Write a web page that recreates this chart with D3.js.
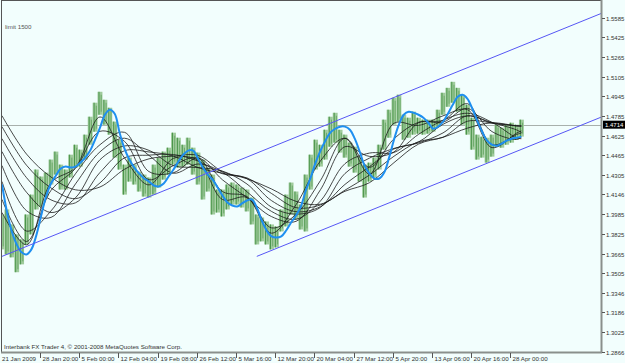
<!DOCTYPE html>
<html>
<head>
<meta charset="utf-8">
<script src="https://cdnjs.cloudflare.com/ajax/libs/d3/7.8.5/d3.min.js"></script>
<style>
  body { margin: 0; background: #f2fefd; }
  svg text { font-family: "Liberation Sans", Arial, sans-serif; }
</style>
</head>
<body>
<div id="chart"></div>
<script>
// GBPUSD H4, 21 Jan - 28 Apr 2009, sampled every 4 bars
var sampleStep = 4;

var priceHigh = [
  1.3983,1.4024,1.3902,1.3821,1.3780,1.3983,1.4145,1.4349,1.4292,1.4324,
  1.4430,1.4495,1.4389,1.4349,1.4470,1.4551,1.4511,1.4633,1.4779,1.4893,
  1.4982,1.4917,1.4852,1.4739,1.4592,1.4389,1.4446,1.4389,1.4332,1.4308,
  1.4284,1.4389,1.4446,1.4495,1.4527,1.4649,1.4608,1.4551,1.4608,1.4527,
  1.4487,1.4430,1.4365,1.4308,1.4186,1.4186,1.4227,1.4243,1.4227,1.4202,
  1.4186,1.4121,1.3983,1.3959,1.3926,1.3902,1.3886,1.4024,1.4145,1.4243,
  1.4170,1.4064,1.4308,1.4470,1.4592,1.4551,1.4673,1.4779,1.4811,1.4673,
  1.4633,1.4568,1.4535,1.4454,1.4389,1.4405,1.4446,1.4551,1.4755,1.4836,
  1.4933,1.4958,1.4795,1.4771,1.4820,1.4771,1.4755,1.4755,1.4755,1.4836,
  1.4974,1.5014,1.5063,1.5014,1.4958,1.4876,1.4771,1.4633,1.4616,1.4608,
  1.4633,1.4714,1.4690,1.4714,1.4730,1.4714,1.4755
];
var priceLow = [
  1.3699,1.3658,1.3634,1.3513,1.3577,1.3739,1.3821,1.4024,1.4048,1.4129,
  1.4227,1.4308,1.4186,1.4186,1.4284,1.4365,1.4373,1.4430,1.4551,1.4657,
  1.4795,1.4714,1.4633,1.4446,1.4349,1.4145,1.4251,1.4227,1.4170,1.4129,
  1.4121,1.4145,1.4202,1.4267,1.4308,1.4389,1.4365,1.4373,1.4389,1.4308,
  1.4227,1.4105,1.4170,1.3983,1.3999,1.3967,1.4024,1.4064,1.4064,1.4040,
  1.4008,1.3902,1.3739,1.3764,1.3739,1.3699,1.3715,1.3845,1.3886,1.3983,
  1.3943,1.3861,1.3845,1.4186,1.4349,1.4373,1.4430,1.4535,1.4568,1.4487,
  1.4446,1.4373,1.4324,1.4251,1.4121,1.4251,1.4284,1.4349,1.4511,1.4608,
  1.4714,1.4739,1.4592,1.4608,1.4633,1.4641,1.4633,1.4641,1.4657,1.4698,
  1.4795,1.4860,1.4893,1.4820,1.4714,1.4633,1.4511,1.4430,1.4446,1.4405,
  1.4454,1.4535,1.4527,1.4551,1.4568,1.4592,1.4617
];

// fast blue average
var maBlue = [
  1.4227,1.4008,1.3845,1.3739,1.3675,1.3658,1.3699,1.3813,1.3975,1.4129,
  1.4235,1.4300,1.4357,1.4373,1.4365,1.4373,1.4405,1.4446,1.4503,1.4592,
  1.4690,1.4795,1.4836,1.4803,1.4649,1.4519,1.4430,1.4365,1.4316,1.4276,
  1.4251,1.4219,1.4211,1.4235,1.4292,1.4349,1.4414,1.4470,1.4503,1.4503,
  1.4438,1.4365,1.4308,1.4267,1.4202,1.4137,1.4081,1.4056,1.4048,1.4073,
  1.4097,1.4105,1.4040,1.3935,1.3853,1.3805,1.3796,1.3805,1.3853,1.3918,
  1.3975,1.4048,1.4178,1.4284,1.4405,1.4503,1.4584,1.4649,1.4681,1.4698,
  1.4698,1.4673,1.4600,1.4495,1.4381,1.4316,1.4276,1.4276,1.4324,1.4446,
  1.4592,1.4714,1.4795,1.4820,1.4811,1.4795,1.4771,1.4730,1.4681,1.4698,
  1.4738,1.4803,1.4876,1.4941,1.4958,1.4925,1.4844,1.4746,1.4657,1.4584,
  1.4551,1.4543,1.4560,1.4584,1.4600,1.4608,1.4617
];

// black ribbon, fastest to slowest, read at these sample indexes
var ribbonIdx = [0,5,10,15,20,25,30,35,40,45,50,55,60,65,70,75,80,85,90,95,100,105,106];
var ribbon1 = [1.3999,1.3736,1.4241,1.4367,1.4777,1.4444,1.4224,1.4440,1.4424,1.4105,1.4121,1.3831,1.4062,1.4420,1.4603,1.4312,1.4726,1.4708,1.4786,1.4836,1.4527,1.4645,1.4663];
var ribbon2 = [1.4105,1.3763,1.4179,1.4358,1.4660,1.4578,1.4266,1.4382,1.4444,1.4170,1.4129,1.3874,1.3984,1.4260,1.4604,1.4367,1.4599,1.4733,1.4750,1.4885,1.4551,1.4634,1.4646];
var ribbon3 = [1.4251,1.3848,1.4012,1.4315,1.4551,1.4652,1.4332,1.4323,1.4443,1.4265,1.4120,1.3966,1.3927,1.4185,1.4535,1.4456,1.4492,1.4730,1.4734,1.4847,1.4658,1.4594,1.4613];
var ribbon4 = [1.4381,1.4014,1.3959,1.4232,1.4493,1.4604,1.4464,1.4319,1.4394,1.4327,1.4168,1.4008,1.3944,1.4093,1.4397,1.4483,1.4488,1.4635,1.4749,1.4807,1.4733,1.4607,1.4600];
var ribbon5 = [1.4495,1.4164,1.3999,1.4119,1.4429,1.4541,1.4505,1.4380,1.4365,1.4336,1.4231,1.4043,1.3986,1.4041,1.4317,1.4442,1.4521,1.4573,1.4717,1.4785,1.4731,1.4672,1.4651];
var ribbon6 = [1.4600,1.4283,1.4102,1.4078,1.4325,1.4502,1.4492,1.4458,1.4365,1.4318,1.4274,1.4096,1.4006,1.4047,1.4228,1.4372,1.4517,1.4565,1.4647,1.4787,1.4727,1.4706,1.4701];
var ribbon7 = [1.4698,1.4384,1.4199,1.4112,1.4240,1.4444,1.4466,1.4471,1.4418,1.4315,1.4281,1.4154,1.4039,1.4061,1.4181,1.4304,1.4457,1.4575,1.4612,1.4742,1.4729,1.4704,1.4704];
var ribbon8 = [1.4787,1.4475,1.4288,1.4184,1.4207,1.4351,1.4436,1.4458,1.4464,1.4332,1.4274,1.4191,1.4090,1.4067,1.4172,1.4242,1.4405,1.4556,1.4611,1.4686,1.4729,1.4705,1.4705];
var ribbons = [ribbon1, ribbon2, ribbon3, ribbon4, ribbon5, ribbon6, ribbon7, ribbon8];

// channel lines (bar index, price)
var upperBars = [0, 490];
var upperPrices = [1.3642, 1.5623];
var lowerBars = [208, 490];
var lowerPrices = [1.3642, 1.4779];

var lastPrice = 1.4714;

var yTicks = [1.5585,1.5425,1.5265,1.5105,1.4945,1.4785,1.4625,1.4465,1.4305,1.4146,1.3985,1.3825,1.3665,1.3505,1.3346,1.3186,1.3025,1.2866];
var xTickLabels = ["21 Jan 2009","28 Jan 20:00","5 Feb 00:00","12 Feb 04:00","19 Feb 08:00","26 Feb 12:00","5 Mar 16:00","12 Mar 20:00","20 Mar 04:00","27 Mar 12:00","5 Apr 20:00","13 Apr 06:00","20 Apr 16:00","28 Apr 00:00"];
var xTickBars = [0,31,63,95,127,159,191,223,255,287,319,351,383,415];

var svgWidth = 625;
var svgHeight = 363;
var plot = { left: 2, right: 601, top: 1, bottom: 352 };

var svg = d3.select("#chart")
  .append("svg")
  .attr("width", svgWidth)
  .attr("height", svgHeight);

svg.append("rect")
  .attr("width", svgWidth)
  .attr("height", svgHeight)
  .attr("fill", "#f2fefd");

var xScale = d3.scaleLinear().domain([0, 489]).range([plot.left, plot.right]);
var yScale = d3.scaleLinear().domain([1.2866, 1.5585]).range([351.7, 17.7]);

svg.append("clipPath").attr("id", "clip")
  .append("rect")
  .attr("x", plot.left).attr("y", plot.top)
  .attr("width", plot.right - plot.left).attr("height", plot.bottom - plot.top);

var g = svg.append("g").attr("clip-path", "url(#clip)");

// last price line
g.append("line")
  .attr("x1", plot.left).attr("x2", plot.right)
  .attr("y1", Math.round(yScale(lastPrice)) + 0.5)
  .attr("y2", Math.round(yScale(lastPrice)) + 0.5)
  .attr("stroke", "#a8b0ac")
  .attr("stroke-width", 1);

// price bars
var step = xScale(sampleStep) - xScale(0);
var bars = g.append("g");
priceHigh.forEach(function(h, i) {
  var x = xScale(i * sampleStep);
  bars.append("rect")
    .attr("x", x - step / 2)
    .attr("y", yScale(h))
    .attr("width", step)
    .attr("height", yScale(priceLow[i]) - yScale(h))
    .attr("fill", "#9fcb9c");
  bars.append("line")
    .attr("x1", x - 1).attr("x2", x - 1)
    .attr("y1", yScale(h)).attr("y2", yScale(priceLow[i]))
    .attr("stroke", "#4a954a")
    .attr("stroke-width", 1);
  bars.append("line")
    .attr("x1", x + 1.2).attr("x2", x + 1.2)
    .attr("y1", yScale(h) + 3).attr("y2", yScale(priceLow[i]) - 3)
    .attr("stroke", "#5ea25c")
    .attr("stroke-width", 0.8);
});

// ribbon
var ribbonLine = d3.line()
  .x(function(d, k) { return xScale(ribbonIdx[k] * sampleStep); })
  .y(function(d) { return yScale(d); })
  .curve(d3.curveCatmullRom);

ribbons.forEach(function(r) {
  g.append("path")
    .attr("d", ribbonLine(r))
    .attr("fill", "none")
    .attr("stroke", "#1a1a1a")
    .attr("stroke-width", 0.8);
});

// blue average
var blueLine = d3.line()
  .x(function(d, i) { return xScale(i * sampleStep); })
  .y(function(d) { return yScale(d); })
  .curve(d3.curveCatmullRom);

g.append("path")
  .attr("d", blueLine(maBlue))
  .attr("fill", "none")
  .attr("stroke", "#1e8ff0")
  .attr("stroke-width", 2);

// channel
[[upperBars, upperPrices], [lowerBars, lowerPrices]].forEach(function(c) {
  g.append("line")
    .attr("x1", xScale(c[0][0])).attr("y1", yScale(c[1][0]))
    .attr("x2", xScale(c[0][1])).attr("y2", yScale(c[1][1]))
    .attr("stroke", "#5656f5")
    .attr("stroke-width", 1);
});

// frame
svg.append("line")
  .attr("x1", 1.5).attr("x2", 1.5).attr("y1", 0).attr("y2", plot.bottom)
  .attr("stroke", "#555").attr("stroke-width", 1);
svg.append("line")
  .attr("x1", 1).attr("x2", plot.right).attr("y1", 0.5).attr("y2", 0.5)
  .attr("stroke", "#555").attr("stroke-width", 1);
svg.append("line")
  .attr("x1", plot.right + 0.5).attr("x2", plot.right + 0.5).attr("y1", 0).attr("y2", plot.bottom + 1)
  .attr("stroke", "#8a8f8c").attr("stroke-width", 2);
svg.append("line")
  .attr("x1", 1).attr("x2", plot.right + 1).attr("y1", plot.bottom + 0.5).attr("y2", plot.bottom + 0.5)
  .attr("stroke", "#8a8f8c").attr("stroke-width", 2);

// y axis
var yAxis = svg.append("g");
yTicks.forEach(function(v) {
  var y = Math.round(yScale(v)) + 0.5;
  yAxis.append("line")
    .attr("x1", plot.right + 1).attr("x2", plot.right + 4)
    .attr("y1", y).attr("y2", y)
    .attr("stroke", "#555");
  yAxis.append("text")
    .attr("x", 606).attr("y", y + 2)
    .attr("font-size", "6px")
    .attr("fill", "#333")
    .text(v.toFixed(4));
});

var ly = yScale(lastPrice);
svg.append("rect")
  .attr("x", 603).attr("y", ly - 4)
  .attr("width", 22).attr("height", 8)
  .attr("fill", "#000");
svg.append("text")
  .attr("x", 605).attr("y", ly + 2.2)
  .attr("font-size", "6px")
  .attr("fill", "#fff")
  .text(lastPrice.toFixed(4));

// x axis
var xAxis = svg.append("g");
xTickLabels.forEach(function(lbl, k) {
  var x = Math.round(xScale(xTickBars[k])) + 0.5;
  if (k > 0) {
    xAxis.append("line")
      .attr("x1", x).attr("x2", x)
      .attr("y1", plot.bottom + 1).attr("y2", plot.bottom + 6)
      .attr("stroke", "#555");
  }
  xAxis.append("text")
    .attr("x", k > 0 ? x + 2 : 2).attr("y", 361)
    .attr("font-size", "6.2px")
    .attr("fill", "#333")
    .text(lbl);
});

svg.append("text")
  .attr("x", 5).attr("y", 29)
  .attr("font-size", "6.2px")
  .attr("fill", "#555")
  .text("limit  1500");

svg.append("text")
  .attr("x", 4).attr("y", 349)
  .attr("font-size", "6.2px")
  .attr("fill", "#333")
  .text("Interbank FX Trader 4, \u00a9 2001-2008 MetaQuotes Software Corp.");
</script>
</body>
</html>
